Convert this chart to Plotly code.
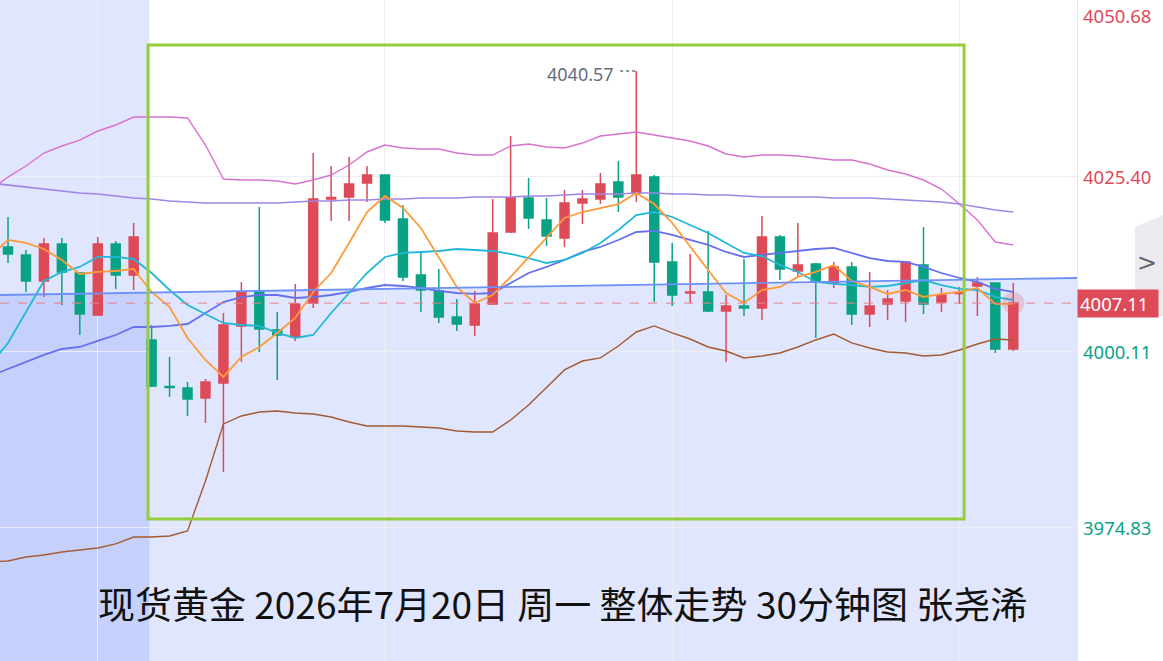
import plotly.graph_objects as go

# ---------------- data ----------------
candle_idx = list(range(57))
open_ = [4015.20, 4014.04, 4010.30, 4015.63, 4011.45, 4005.40, 4015.63, 4011.16, 4001.80, 3995.10,
         3994.88, 3993.44, 3995.60, 4003.81, 4008.71, 4003.24, 4002.23, 4007.13, 4022.11, 4022.40,
         4024.42, 4025.57, 4019.23, 4011.16, 4008.86, 4005.11, 4003.96, 4006.98, 4017.36, 4022.26,
         4019.09, 4016.49, 4021.54, 4022.11, 4024.56, 4022.98, 4025.28, 4013.04, 4008.57, 4008.71,
         4005.97, 4006.70, 4006.41, 4016.64, 4011.74, 4012.75, 4010.01, 4012.31, 4005.54, 4006.98,
         4007.42, 4012.60, 4007.27, 4008.50, 4009.58, 4010.01, 4000.50]
high = [4019.52, 4014.76, 4016.49, 4016.49, 4011.59, 4016.64, 4016.06, 4018.65, 4003.96, 3999.35,
        3995.74, 3996.18, 4005.69, 4010.15, 4020.96, 4005.83, 4009.87, 4028.74, 4026.87, 4028.16,
        4026.87, 4025.65, 4021.25, 4014.33, 4012.03, 4007.70, 4008.86, 4022.11, 4031.19, 4025.14,
        4022.26, 4023.41, 4023.41, 4025.86, 4027.59, 4040.57, 4025.57, 4015.77, 4014.19, 4017.50,
        4008.28, 4013.47, 4019.66, 4016.93, 4018.65, 4012.89, 4013.04, 4013.04, 4011.59, 4009.00,
        4013.10, 4018.08, 4009.29, 4009.43, 4010.87, 4010.05, 4010.01]
low = [4012.89, 4008.71, 4007.99, 4006.84, 4002.52, 4005.25, 4009.14, 4009.00, 3995.02, 3993.58,
       3990.84, 3989.84, 3982.78, 3998.63, 4000.07, 3996.03, 4001.65, 4006.41, 4018.94, 4018.94,
       4021.68, 4018.65, 4010.30, 4005.83, 4004.25, 4003.09, 4002.37, 4006.84, 4017.20, 4017.79,
       4015.34, 4015.20, 4018.51, 4021.39, 4020.24, 4021.68, 4007.27, 4006.70, 4007.13, 4005.83,
       3998.63, 4005.25, 4004.68, 4010.44, 4011.02, 4002.08, 4009.29, 4003.96, 4003.67, 4004.68,
       4004.39, 4005.54, 4005.83, 4006.98, 4005.25, 3999.92, 4000.21]
close = [4014.19, 4010.30, 4015.63, 4011.59, 4005.54, 4015.63, 4011.16, 4016.64, 3995.17, 3994.95,
         3993.29, 3995.74, 4003.96, 4008.71, 4003.38, 4002.52, 4006.98, 4022.11, 4022.33, 4024.27,
         4025.57, 4019.09, 4010.87, 4009.00, 4005.11, 4004.10, 4006.98, 4017.21, 4022.26, 4019.38,
         4016.78, 4021.54, 4022.11, 4024.27, 4022.40, 4025.57, 4013.04, 4008.28, 4008.71, 4005.97,
         4006.70, 4006.41, 4016.64, 4012.03, 4012.60, 4010.15, 4012.31, 4005.54, 4006.70, 4007.70,
         4013.04, 4006.98, 4008.28, 4008.64, 4010.01, 4000.50, 4007.11]

line_idx = list(range(-1, 57))
boll_upper = [4023.41, 4025.28, 4026.87, 4028.74, 4029.75, 4030.61, 4031.91, 4032.78, 4033.93, 4033.93,
              4033.93, 4033.79, 4029.89, 4024.99, 4024.85, 4024.85, 4024.71, 4024.27, 4024.85, 4025.57,
              4027.01, 4028.89, 4029.89, 4029.46, 4029.32, 4029.32, 4028.74, 4028.45, 4028.45, 4029.75,
              4030.04, 4029.61, 4029.46, 4030.18, 4031.19, 4031.48, 4031.77, 4031.33, 4030.90, 4030.47,
              4029.75, 4028.60, 4028.17, 4028.45, 4028.45, 4028.31, 4028.02, 4027.73, 4027.73, 4027.16,
              4026.29, 4025.71, 4024.85, 4023.55, 4021.39, 4019.09, 4015.92, 4015.49]
boll_mid = [3996.61, 3997.62, 3998.63, 3999.64, 4000.50, 4000.79, 4001.66, 4002.52, 4003.67, 4003.67,
            4003.82, 4004.10, 4005.69, 4007.27, 4007.99, 4008.28, 4008.28, 4007.85, 4007.99, 4008.28,
            4008.72, 4009.29, 4009.72, 4009.58, 4009.29, 4008.86, 4008.57, 4008.43, 4008.57, 4010.01,
            4011.45, 4012.32, 4013.33, 4014.48, 4015.20, 4016.21, 4017.36, 4017.51, 4016.93, 4016.21,
            4015.49, 4014.48, 4013.76, 4014.05, 4014.34, 4014.62, 4014.91, 4015.06, 4014.34, 4013.61,
            4013.18, 4013.04, 4012.32, 4011.45, 4010.73, 4010.16, 4009.15, 4008.72]
boll_lower = [3969.81, 3969.96, 3970.53, 3970.82, 3971.25, 3971.54, 3971.83, 3972.41, 3973.41, 3973.41,
              3973.56, 3974.28, 3981.48, 3989.70, 3990.85, 3991.42, 3991.57, 3991.28, 3991.14, 3990.70,
              3989.98, 3989.41, 3989.41, 3989.41, 3989.26, 3989.12, 3988.69, 3988.54, 3988.54, 3990.27,
              3992.43, 3995.03, 3997.48, 3998.77, 3999.21, 4000.93, 4002.95, 4003.82, 4002.81, 4001.94,
              4000.79, 4000.21, 3999.21, 3999.49, 3999.93, 4000.79, 4001.80, 4002.66, 4001.37, 4000.65,
              4000.07, 3999.93, 3999.49, 3999.64, 4000.36, 4001.22, 4001.94, 4001.80]
ma5 = [4013.90, 4016.21, 4015.78, 4014.91, 4013.33, 4011.31, 4011.60, 4011.74, 4012.03, 4008.72,
       4006.55, 4002.09, 3998.92, 3996.47, 3999.35, 4000.79, 4002.81, 4004.97, 4008.72, 4011.45,
       4015.78, 4020.24, 4022.55, 4020.82, 4017.94, 4013.76, 4009.44, 4007.13, 4008.28, 4010.88,
       4013.76, 4016.64, 4019.38, 4020.24, 4020.82, 4021.39, 4022.98, 4021.39, 4018.66, 4015.20,
       4011.89, 4008.57, 4007.13, 4009.00, 4009.44, 4010.88, 4011.60, 4012.61, 4010.30, 4009.44,
       4008.43, 4009.00, 4008.00, 4008.43, 4008.72, 4009.29, 4006.99, 4006.99]
ma10 = [3998.20, 4001.37, 4005.83, 4010.30, 4011.60, 4012.32, 4013.76, 4013.76, 4013.47, 4011.45,
        4009.00, 4006.84, 4005.55, 4004.25, 4003.96, 4003.82, 4002.81, 4002.09, 4002.52, 4005.69,
        4008.57, 4011.45, 4013.76, 4014.34, 4014.48, 4014.62, 4014.91, 4014.77, 4014.62, 4014.19,
        4013.61, 4012.89, 4013.33, 4014.34, 4015.78, 4017.65, 4019.81, 4020.24, 4019.52, 4018.37,
        4017.22, 4015.78, 4014.34, 4013.90, 4012.61, 4011.60, 4010.16, 4009.87, 4009.72, 4009.44,
        4009.58, 4010.01, 4010.44, 4009.72, 4009.15, 4009.00, 4008.00, 4007.56]
ma_long = [4024.42, 4024.13, 4023.85, 4023.56, 4023.27, 4022.98, 4022.84, 4022.55, 4022.26, 4022.12,
           4021.83, 4021.68, 4021.54, 4021.54, 4021.54, 4021.54, 4021.54, 4021.68, 4021.83, 4021.83,
           4021.97, 4021.97, 4022.12, 4022.12, 4022.26, 4022.26, 4022.26, 4022.40, 4022.40, 4022.40,
           4022.55, 4022.55, 4022.69, 4022.84, 4022.84, 4022.84, 4022.98, 4022.98, 4022.84, 4022.84,
           4022.69, 4022.69, 4022.55, 4022.40, 4022.40, 4022.40, 4022.40, 4022.26, 4022.26, 4022.26,
           4022.12, 4021.97, 4021.83, 4021.68, 4021.40, 4020.96, 4020.53, 4020.24]

trend_x = [-1, 60]
trend_y = [4008.26, 4010.75]

axis_labels = [4050.68, 4025.40, 4000.11, 3974.83]
last_price = 4007.11
peak_price = 4040.57
peak_idx = 35
box_x = [7.8, 53.26]
box_y = [3975.99, 4044.31]
shade_x_end = 7.87
grid_x = [5, 21, 37, 53]
title_text = "现货黄金 2026年7月20日 周一 整体走势 30分钟图 张尧浠"

# ---------------- style ----------------
RED = "#dd4b59"
GREEN = "#0aa284"
X_RANGE = [-0.446, 59.55]
Y_RANGE = [3955.54, 4050.79]
BLUE_TINT = "rgba(87,124,245,0.19)"

fig = go.Figure()

fig.add_trace(go.Candlestick(
    x=candle_idx, open=open_, high=high, low=low, close=close,
    increasing=dict(line=dict(color=RED, width=1.5), fillcolor=RED),
    decreasing=dict(line=dict(color=GREEN, width=1.5), fillcolor=GREEN),
    whiskerwidth=0, showlegend=False, hoverinfo="skip"))

def add_line(y, color, width):
    fig.add_trace(go.Scatter(x=line_idx, y=y, mode="lines",
                             line=dict(color=color, width=width, shape="linear"),
                             showlegend=False, hoverinfo="skip"))

add_line(boll_upper, "#d872cf", 1.4)
add_line(boll_lower, "#a45a32", 1.4)
add_line(ma_long, "#9f85e6", 1.6)
add_line(boll_mid, "#6570ee", 1.8)
add_line(ma10, "#22b8d8", 1.8)
add_line(ma5, "#ff9a3a", 1.8)

fig.add_trace(go.Scatter(x=trend_x, y=trend_y, mode="lines",
                         line=dict(color="#6d90f6", width=1.8),
                         showlegend=False, hoverinfo="skip"))

fig.add_trace(go.Scatter(x=[candle_idx[-1]], y=[last_price], mode="markers",
                         marker=dict(size=22, color="rgba(221,75,89,0.22)", line=dict(width=0)),
                         showlegend=False, hoverinfo="skip"))

ybot = Y_RANGE[0] - 10
shapes = [
    dict(type="rect", xref="x", yref="paper", x0=X_RANGE[0] - 1, x1=shade_x_end, y0=0, y1=1,
         fillcolor=BLUE_TINT, line=dict(width=0), layer="below"),
    dict(type="path", xref="x", yref="y",
         path=f"M {trend_x[0]},{trend_y[0]} L {trend_x[1]},{trend_y[1]} L {trend_x[1]},{ybot} L {trend_x[0]},{ybot} Z",
         fillcolor=BLUE_TINT, line=dict(width=0), layer="below"),
    dict(type="line", xref="paper", yref="y", x0=0, x1=1, y0=last_price, y1=last_price,
         line=dict(color="#e8808b", width=1, dash="dash"), layer="above"),
    dict(type="rect", xref="x", yref="y", x0=box_x[0], x1=box_x[1], y0=box_y[0], y1=box_y[1],
         line=dict(color="#96cd3c", width=3), fillcolor="rgba(0,0,0,0)", layer="above"),
    dict(type="line", xref="x", yref="y", x0=peak_idx - 0.9, x1=peak_idx - 0.05,
         y0=peak_price, y1=peak_price, line=dict(color="#6b7280", width=1.5, dash="dot")),
]

annotations = []
for v in axis_labels:
    col = RED if v > last_price else GREEN
    annotations.append(dict(xref="paper", yref="y", x=1, y=v, xanchor="left",
                            yanchor="top" if v == max(axis_labels) else "middle",
                            xshift=4, text=f"{v:.2f}", showarrow=False,
                            font=dict(family="Noto Sans, Arial", size=18.5, color=col)))

annotations.append(dict(xref="paper", yref="y", x=1, y=last_price, xanchor="left", yanchor="middle",
                        text=f"{last_price:.2f}", showarrow=False, align="left",
                        bgcolor=RED, width=76, height=23, borderpad=2, xshift=0,
                        font=dict(family="Noto Sans, Arial", size=18.5, color="white")))

annotations.append(dict(xref="x", yref="y", x=peak_idx, y=peak_price, xanchor="right", yanchor="middle",
                        xshift=-20, yshift=-3, text=f"{peak_price:.2f}", showarrow=False,
                        font=dict(family="Noto Sans, Arial", size=18, color="#666d7a")))

annotations.append(dict(xref="paper", yref="paper", x=562 / 1077, y=1 - 603 / 661,
                        xanchor="center", yanchor="middle", text=title_text, showarrow=False,
                        font=dict(family="Noto Sans CJK SC", size=37, color="#111111")))

# side expander button
bx0, bx1 = 1135 / 1077, 1163 / 1077
shapes.append(dict(type="path", xref="paper", yref="paper",
                   path=f"M {bx0},{1-227/661} L {bx1},{1-215/661} L {bx1},{1-316/661} L {bx0},{1-316/661} Z",
                   fillcolor="rgba(222,222,228,0.6)", line=dict(width=0), layer="above"))
annotations.append(dict(xref="paper", yref="paper", x=1147 / 1077, y=1 - 263 / 661,
                        xanchor="center", yanchor="middle", text="&gt;", showarrow=False,
                        font=dict(family="DejaVu Sans", size=24, color="#5f6470")))

fig.update_layout(
    width=1163, height=661,
    margin=dict(l=0, r=86, t=0, b=0),
    paper_bgcolor="white", plot_bgcolor="white",
    boxgap=0.5, boxgroupgap=0,
    shapes=shapes, annotations=annotations,
    xaxis=dict(range=X_RANGE, showgrid=True, gridcolor="#eceef3", gridwidth=1,
               tickmode="array", tickvals=grid_x, showticklabels=False, ticks="",
               zeroline=False, showline=False, rangeslider=dict(visible=False), fixedrange=True),
    yaxis=dict(range=Y_RANGE, side="right", showgrid=True, gridcolor="#eceef3", gridwidth=1,
               tickmode="array", tickvals=axis_labels[1:], showticklabels=False, ticks="",
               zeroline=False, showline=True, linecolor="#e3e4e8", linewidth=1, fixedrange=True),
    hovermode=False,
)

fig.write_html("out.html", config={"displayModeBar": False})
